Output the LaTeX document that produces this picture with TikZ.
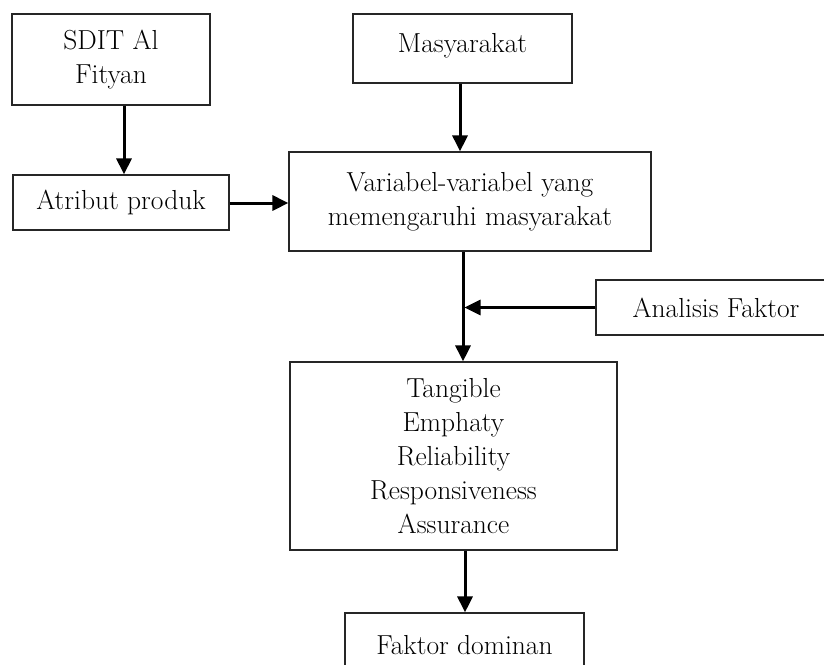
\documentclass[tikz,border=0pt]{standalone}
\usetikzlibrary{arrows.meta}
\begin{document}
\begin{tikzpicture}[x=1pt,y=-1pt,
  box/.style={draw=black!85,line width=1.2pt,rectangle,inner sep=0pt,align=center,
    font=\fontsize{27.5}{34}\selectfont},
  arr/.style={line width=3pt,-{Triangle[length=16pt,width=15pt]}}]
\useasboundingbox (0,0) rectangle (824,664);
\clip (0,0) rectangle (824,664);
\node[box,minimum width=198pt,minimum height=91pt] (sdit) at (111,59.5) {SDIT Al\\Fityan};
\node[box,minimum width=216pt,minimum height=55pt] (atribut) at (121,202.5) {Atribut produk};
\node[box,minimum width=219pt,minimum height=69pt,text depth=11pt] (masy) at (462.5,48.5) {Masyarakat};
\node[box,minimum width=362pt,minimum height=99pt] (var) at (470,201.5) {Variabel-variabel yang\\memengaruhi masyarakat};
\node[box,minimum width=240pt,minimum height=55pt] (anal) at (716,307.5) {Analisis Faktor};
\node[box,minimum width=327pt,minimum height=188pt] (tang) at (453.5,456) {Tangible\\Emphaty\\Reliability\\Responsiveness\\Assurance};
\node[box,minimum width=239pt,minimum height=64pt] (dom) at (464.5,645) {Faktor dominan};
\coordinate (j) at (463,307.5);
\draw[arr] (sdit.south -| 124,0) -- (atribut.north -| 124,0);
\draw[arr] (atribut.east |- 0,203) -- (var.west |- 0,203);
\draw[arr] (masy.south -| 460,0) -- (var.north -| 460,0);
\draw[arr] (var.south -| j) -- (tang.north -| j);
\draw[arr] (anal.west) -- ([xshift=1.5pt]anal.west -| j);
\draw[arr] (tang.south -| 465,0) -- (dom.north -| 465,0);
\end{tikzpicture}
\end{document}
